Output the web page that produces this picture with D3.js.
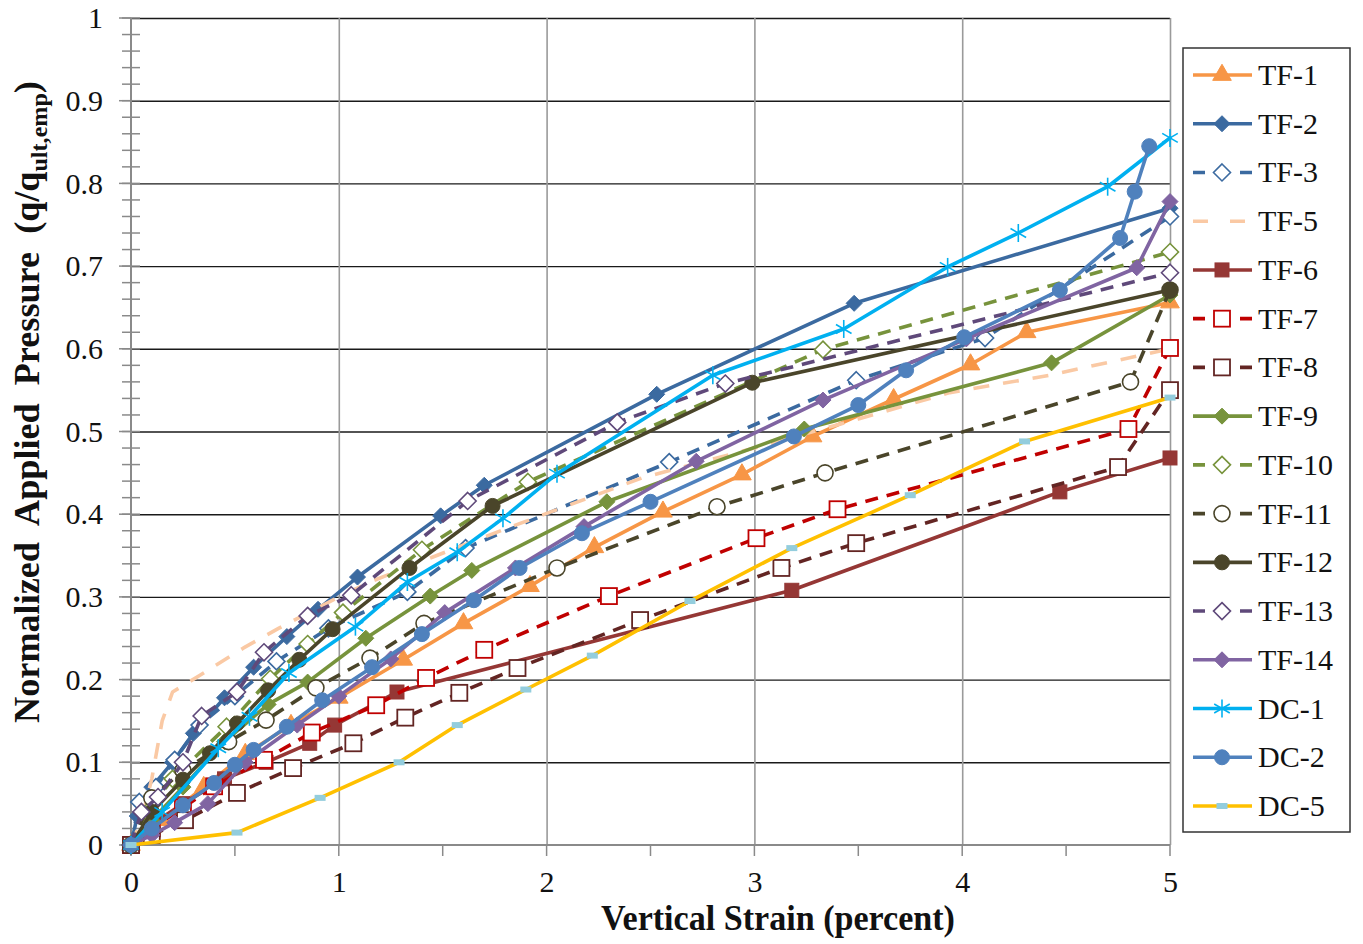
<!DOCTYPE html>
<html><head><meta charset="utf-8">
<script src="https://cdn.jsdelivr.net/npm/d3@7"></script>
<style>body{margin:0;background:#fff}svg{display:block}</style>
</head><body>
<svg id="c" width="1363" height="944"></svg>
<script>
// ---------- data ----------
const xTicks = [0, 1, 2, 3, 4, 5];
const yTicks = [0, 0.1, 0.2, 0.3, 0.4, 0.5, 0.6, 0.7, 0.8, 0.9, 1];
const xTickLabels = ["0", "1", "2", "3", "4", "5"];
const yTickLabels = ["0", "0.1", "0.2", "0.3", "0.4", "0.5", "0.6", "0.7", "0.8", "0.9", "1"];
const seriesNames = ["TF-1","TF-2","TF-3","TF-5","TF-6","TF-7","TF-8","TF-9","TF-10","TF-11","TF-12","TF-13","TF-14","DC-1","DC-2","DC-5"];

const TF1 = [[0,0],[0.15,0.03],[0.35,0.07],[0.55,0.11],[0.77,0.145],[1.0,0.178],[1.31,0.224],[1.60,0.268],[1.92,0.313],[2.23,0.36],[2.56,0.403],[2.94,0.448],[3.28,0.494],[3.67,0.539],[4.04,0.581],[4.31,0.62],[5.0,0.656]];
const TF2 = [[0,0],[0.03,0.035],[0.1,0.07],[0.2,0.1],[0.3,0.135],[0.45,0.178],[0.59,0.215],[0.75,0.252],[0.9,0.285],[1.09,0.324],[1.49,0.398],[1.70,0.435],[2.53,0.545],[3.48,0.655],[5.0,0.77]];
const TF3 = [[0,0],[0.04,0.052],[0.12,0.07],[0.21,0.103],[0.33,0.145],[0.5,0.18],[0.7,0.222],[0.95,0.262],[1.33,0.306],[1.61,0.359],[2.59,0.463],[3.49,0.562],[4.11,0.613],[5.0,0.76]];
const TF5 = [[0,0],[0.05,0.03],[0.1,0.08],[0.15,0.15],[0.2,0.185],[0.33,0.205],[0.54,0.238],[0.71,0.262],[1.0,0.3],[1.15,0.318],[1.45,0.348],[1.81,0.383],[2.46,0.444],[3.0,0.48],[3.5,0.515],[3.94,0.547],[4.42,0.568],[5.0,0.6]];
const TF6 = [[0,0],[0.1,0.025],[0.25,0.05],[0.45,0.08],[0.65,0.1],[0.86,0.123],[0.98,0.145],[1.28,0.185],[3.18,0.308],[4.47,0.427],[5.0,0.468]];
const TF7 = [[0,0],[0.1,0.02],[0.25,0.045],[0.4,0.071],[0.64,0.103],[0.87,0.136],[1.18,0.169],[1.42,0.202],[1.70,0.236],[2.30,0.301],[3.01,0.371],[3.40,0.406],[4.80,0.503],[5.0,0.601]];
const TF8 = [[0,0],[0.1,0.012],[0.26,0.03],[0.51,0.063],[0.78,0.093],[1.07,0.123],[1.32,0.154],[1.58,0.184],[1.86,0.214],[2.45,0.272],[3.13,0.335],[3.49,0.365],[4.75,0.457],[5.0,0.55]];
const TF9 = [[0,0],[0.1,0.03],[0.25,0.07],[0.45,0.125],[0.66,0.17],[0.85,0.197],[1.13,0.25],[1.44,0.301],[1.64,0.332],[2.29,0.415],[3.24,0.503],[4.43,0.583],[5.0,0.665]];
const TF10 = [[0,0],[0.08,0.04],[0.2,0.08],[0.46,0.143],[0.67,0.201],[0.85,0.243],[1.02,0.281],[1.40,0.357],[1.91,0.439],[3.33,0.599],[5.0,0.717]];
const TF11 = [[0,0],[0.1,0.057],[0.25,0.09],[0.47,0.125],[0.65,0.151],[0.89,0.19],[1.15,0.226],[1.41,0.268],[2.05,0.335],[2.82,0.409],[3.34,0.45],[4.81,0.56],[5.0,0.671]];
const TF12 = [[0,0],[0.1,0.04],[0.25,0.079],[0.38,0.111],[0.51,0.147],[0.66,0.187],[0.81,0.224],[0.97,0.261],[1.34,0.335],[1.74,0.41],[2.99,0.559],[5.0,0.671]];
const TF13 = [[0,0],[0.05,0.04],[0.13,0.058],[0.25,0.1],[0.34,0.156],[0.51,0.185],[0.64,0.233],[0.85,0.277],[1.06,0.302],[1.62,0.416],[2.34,0.511],[2.86,0.558],[5.0,0.692]];
const TF14 = [[0,0],[0.1,0.012],[0.21,0.027],[0.37,0.05],[0.55,0.1],[0.8,0.145],[1.0,0.18],[1.25,0.225],[1.51,0.281],[1.85,0.335],[2.18,0.385],[2.72,0.464],[3.33,0.538],[4.02,0.612],[4.84,0.698],[5.0,0.778]];
const DC1 = [[0,0],[0.15,0.04],[0.42,0.117],[0.57,0.155],[0.76,0.208],[1.08,0.264],[1.33,0.318],[1.57,0.354],[1.79,0.395],[2.05,0.449],[2.80,0.568],[3.43,0.624],[3.93,0.699],[4.27,0.74],[4.70,0.796],[5.0,0.855]];
const DC2 = [[0,0],[0.1,0.02],[0.25,0.048],[0.4,0.075],[0.5,0.097],[0.59,0.115],[0.75,0.143],[0.92,0.175],[1.16,0.215],[1.40,0.255],[1.65,0.296],[1.87,0.335],[2.17,0.377],[2.50,0.415],[3.19,0.494],[3.50,0.532],[3.73,0.574],[4.01,0.614],[4.47,0.671],[4.76,0.734],[4.83,0.79],[4.90,0.845]];
const DC5 = [[0,0],[0.51,0.015],[0.91,0.057],[1.29,0.1],[1.57,0.145],[1.90,0.188],[2.22,0.229],[2.69,0.295],[3.18,0.359],[3.75,0.423],[4.30,0.488],[5.0,0.541]];
const seriesData = [TF1,TF2,TF3,TF5,TF6,TF7,TF8,TF9,TF10,TF11,TF12,TF13,TF14,DC1,DC2,DC5];

// ---------- styles ----------
const styles = {
  "TF-1": {color:"#F79646", dash:null, marker:"triangle", fill:"#F79646"},
  "TF-2": {color:"#3B6AA0", dash:null, marker:"diamond", fill:"#3B6AA0"},
  "TF-3": {color:"#3B6AA0", dash:"13,9", marker:"diamond", fill:"#fff"},
  "TF-5": {color:"#FAC9A4", dash:"16,14", marker:null},
  "TF-6": {color:"#953735", dash:null, marker:"square", fill:"#953735"},
  "TF-7": {color:"#C00000", dash:"13,9", marker:"square", fill:"#fff"},
  "TF-8": {color:"#632523", dash:"13,9", marker:"square", fill:"#fff"},
  "TF-9": {color:"#77933C", dash:null, marker:"diamond", fill:"#77933C"},
  "TF-10":{color:"#77933C", dash:"13,9", marker:"diamond", fill:"#fff"},
  "TF-11":{color:"#4A452A", dash:"13,9", marker:"circle", fill:"#fff"},
  "TF-12":{color:"#4A452A", dash:null, marker:"circle", fill:"#4A452A"},
  "TF-13":{color:"#5F497A", dash:"13,9", marker:"diamond", fill:"#fff"},
  "TF-14":{color:"#8064A2", dash:null, marker:"diamond", fill:"#8064A2"},
  "DC-1": {color:"#00B0F0", dash:null, marker:"star"},
  "DC-2": {color:"#4F81BD", dash:null, marker:"circle", fill:"#4F81BD"},
  "DC-5": {color:"#FFC000", dash:null, marker:"dash", fill:"#93CDDD"}
};

const FONT = "'Liberation Serif','Times New Roman',serif";
const L = 131, R = 1170, T = 18, B = 845;
const svg = d3.select("#c");
const x = d3.scaleLinear().domain([0,5]).range([L,R]);
const y = d3.scaleLinear().domain([0,1]).range([B,T]);

// gridlines
const grid = svg.append("g");
grid.append("g").attr("transform",`translate(${L},0)`)
  .call(d3.axisLeft(y).tickValues(yTicks.slice(1)).tickSize(-(R-L)).tickFormat(""))
  .call(g=>{g.select(".domain").remove(); g.selectAll("line").attr("stroke","#1a1a1a").attr("stroke-width",1.4);});
grid.append("g").attr("transform",`translate(0,${B})`)
  .call(d3.axisBottom(x).tickValues(xTicks.slice(1)).tickSize(-(B-T)).tickFormat(""))
  .call(g=>{g.select(".domain").remove(); g.selectAll("line").attr("stroke","#9a9a9a").attr("stroke-width",1.6);});

// axes
const yMinor = d3.range(0, 1.0001, 0.02);
svg.append("g").selectAll("line").data(yMinor).join("line")
  .attr("x1",L-9).attr("x2",L+9).attr("y1",d=>y(d)).attr("y2",d=>y(d))
  .attr("stroke","#8a8a8a").attr("stroke-width",1.5);
svg.append("g").selectAll("line").data(yTicks).join("line")
  .attr("x1",L-12).attr("x2",L).attr("y1",d=>y(d)).attr("y2",d=>y(d))
  .attr("stroke","#8a8a8a").attr("stroke-width",1.5);
const xMinor = d3.range(0, 5.0001, 0.5);
svg.append("g").selectAll("line").data(xMinor).join("line")
  .attr("x1",d=>x(d)).attr("x2",d=>x(d)).attr("y1",B).attr("y2",B+11)
  .attr("stroke","#8a8a8a").attr("stroke-width",1.5);
svg.append("line").attr("x1",L).attr("x2",L).attr("y1",T).attr("y2",B).attr("stroke","#8a8a8a").attr("stroke-width",2);
svg.append("line").attr("x1",L).attr("x2",R).attr("y1",B).attr("y2",B).attr("stroke","#8a8a8a").attr("stroke-width",2);

// tick labels
svg.append("g").attr("transform",`translate(${L},0)`)
  .call(d3.axisLeft(y).tickValues(yTicks).tickFormat((d,i)=>yTickLabels[i]).tickSize(0).tickPadding(28))
  .call(g=>{g.select(".domain").remove(); g.selectAll("text").attr("font-family",FONT).attr("font-size",30).attr("fill","#111");});
svg.append("g").attr("transform",`translate(0,${B})`)
  .call(d3.axisBottom(x).tickValues(xTicks).tickFormat((d,i)=>xTickLabels[i]).tickSize(0).tickPadding(26))
  .call(g=>{g.select(".domain").remove(); g.selectAll("text").attr("font-family",FONT).attr("font-size",30).attr("fill","#111");});

// markers
function diamondPath(r){return `M0,${-r}L${r},0L0,${r}L${-r},0Z`;}
function drawMarker(g, st, px, py, scale){
  const s = scale||1;
  const m = st.marker;
  if(!m) return;
  if(m==="triangle"){
    g.append("path").attr("d", d3.symbol(d3.symbolTriangle, 150*s*s)()).attr("transform",`translate(${px},${py})`)
      .attr("fill",st.fill).attr("stroke",st.color).attr("stroke-width",1);
  } else if(m==="diamond"){
    const filled = st.fill!=="#fff";
    g.append("path").attr("d", diamondPath((filled?8:8.5)*s)).attr("transform",`translate(${px},${py})`)
      .attr("fill",st.fill).attr("stroke",st.color).attr("stroke-width",filled?1:1.6);
  } else if(m==="square"){
    const filled = st.fill!=="#fff";
    const h = (filled?7:8)*s;
    g.append("rect").attr("x",px-h).attr("y",py-h).attr("width",2*h).attr("height",2*h)
      .attr("fill",st.fill).attr("stroke",st.color).attr("stroke-width",filled?1:1.8);
  } else if(m==="circle"){
    const filled = st.fill!=="#fff";
    g.append("circle").attr("cx",px).attr("cy",py).attr("r",(filled?7.5:8)*s)
      .attr("fill",st.fill).attr("stroke",st.color).attr("stroke-width",filled?1:1.6);
  } else if(m==="star"){
    const r = 9*s;
    const a = Math.PI/3;
    const p = [[0,-r,0,r],[-r*Math.sin(a),-r*Math.cos(a),r*Math.sin(a),r*Math.cos(a)],[-r*Math.sin(a),r*Math.cos(a),r*Math.sin(a),-r*Math.cos(a)]];
    p.forEach(q=>g.append("line").attr("x1",px+q[0]).attr("y1",py+q[1]).attr("x2",px+q[2]).attr("y2",py+q[3])
      .attr("stroke",st.color).attr("stroke-width",1.6));
  } else if(m==="dash"){
    g.append("rect").attr("x",px-5.5).attr("y",py-3).attr("width",11).attr("height",6).attr("fill",st.fill);
  }
}

// series
const line = d3.line().x(d=>x(d[0])).y(d=>y(d[1]));
const plot = svg.append("g");
seriesNames.forEach((name,i)=>{
  const st = styles[name];
  const data = seriesData[i];
  const g = plot.append("g");
  g.append("path").attr("d", line(data)).attr("fill","none").attr("stroke",st.color)
    .attr("stroke-width",3.6).attr("stroke-linejoin","round").attr("stroke-linecap", st.dash?"butt":"round")
    .attr("stroke-dasharray", st.dash);
  data.forEach(d=>drawMarker(g, st, x(d[0]), y(d[1])));
});

// legend
const lg = svg.append("g");
lg.append("rect").attr("x",1183).attr("y",48).attr("width",167).attr("height",784)
  .attr("fill","#fff").attr("stroke","#333").attr("stroke-width",1.5);
const legY = d3.scaleLinear().domain([0, seriesNames.length-1]).range([75, 806]);
seriesNames.forEach((name,i)=>{
  const st = styles[name];
  const cy = legY(i);
  const g = lg.append("g");
  g.append("line").attr("x1",1193).attr("x2",1252).attr("y1",cy).attr("y2",cy)
    .attr("stroke",st.color).attr("stroke-width",3.6).attr("stroke-dasharray", st.dash?(name==="TF-5"?"15,22":"12,35"):null)
    .attr("stroke-dashoffset", st.dash && name!=="TF-5" ? 0 : null);
  drawMarker(g, st, 1222, cy);
  g.append("text").attr("x",1258).attr("y",cy+10).attr("font-family",FONT).attr("font-size",30).attr("fill","#111").text(name);
});

// axis titles
const xt = svg.append("text").attr("font-family",FONT).attr("font-weight","bold").attr("font-size",36)
  .attr("text-anchor","middle").attr("fill","#111").text("Vertical Strain (percent)");
const xw = xt.node().getBBox().width;
xt.attr("transform",`translate(778,930) scale(${354/xw},1)`);

const yt = svg.append("text").attr("font-family",FONT).attr("font-weight","bold").attr("font-size",36)
  .attr("text-anchor","middle").attr("fill","#111");
yt.append("tspan").text("Normalized  Applied  Pressure  (q/q");
yt.append("tspan").attr("font-size",24).attr("dy",8).text("ult,emp");
yt.append("tspan").attr("dy",-8).text(")");
const yw = yt.node().getBBox().width;
yt.attr("transform",`translate(39,402) rotate(-90) scale(${615/yw},1)`).style("white-space","pre");
</script>
</body></html>
